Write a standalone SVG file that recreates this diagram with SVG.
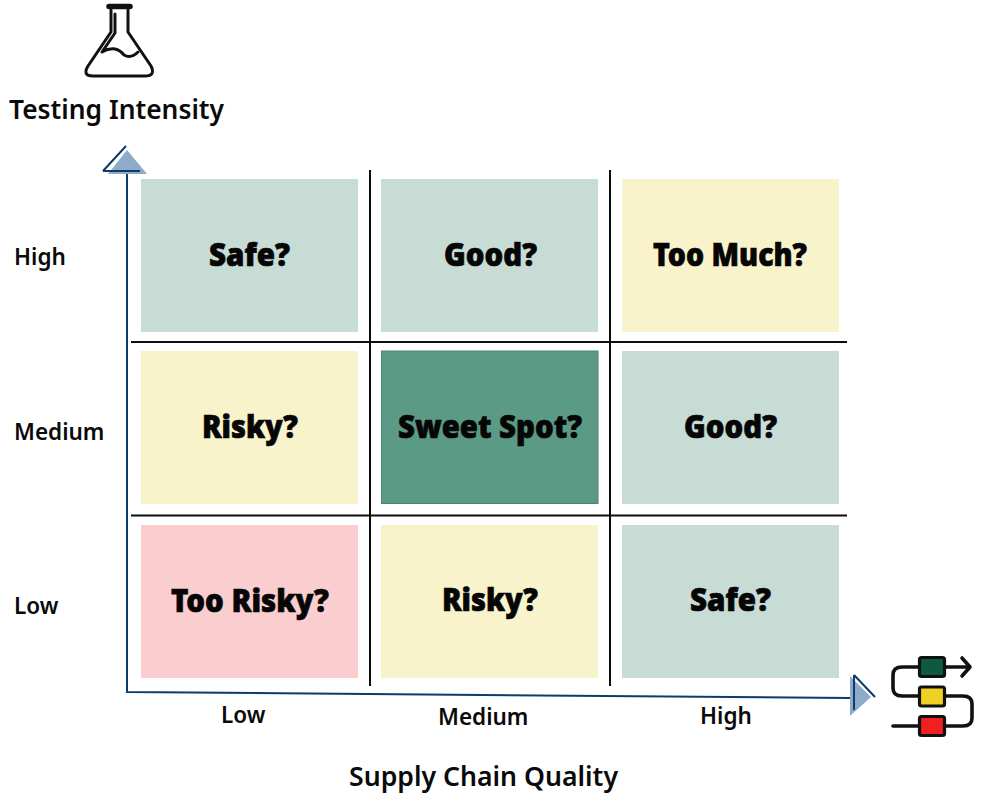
<svg xmlns="http://www.w3.org/2000/svg" width="983" height="800" viewBox="0 0 983 800">
<style>
.cell{stroke-width:1}
.t{font-family:"Noto Sans","Open Sans",sans-serif;font-weight:900;font-size:31px;fill:#060606;stroke:#060606;stroke-width:.7;text-anchor:middle}
.l{font-family:"Noto Sans","Open Sans",sans-serif;font-weight:600;font-size:22.500px;fill:#0a0a0a}
.h{font-family:"Noto Sans","Open Sans",sans-serif;font-weight:600;font-size:27px;fill:#0a0a0a}
.g{stroke:#0c0c0c;stroke-width:2;fill:none}
.ax{stroke:#0f3a6e;stroke-width:2;fill:none}
.ic{stroke:#111;stroke-width:3;fill:none;stroke-linecap:round;stroke-linejoin:round}
.rim{stroke-width:5.500}
.fl{stroke-width:3.600}
.ic2{stroke:#111;stroke-width:3.200;stroke-linejoin:round}
</style>
<rect width="983" height="800" fill="#fff"/>
<g id="connectors">
<path class="g" d="M370 170V686M610 170V686M131 342H847M131 515.500H847"/>
<path class="ax" d="M127 172V692L850 698"/>
<path d="M108 174H147L127 150Z" fill="#8eabc9"/>
<path class="ax" d="M103 171H140M103 171L126 146"/>
<path d="M850 676V716L871 697Z" fill="#8eabc9"/>
<path class="ax" d="M854 675V710M854 675L875 697"/>
</g>
<g id="cell-high-low"><rect class="cell" x="141" y="179" width="217" height="153" fill="#c8dcd6"/><text class="t" x="249.500" y="266" textLength="81" lengthAdjust="spacingAndGlyphs">Safe?</text></g>
<g id="cell-high-medium"><rect class="cell" x="381" y="179" width="217" height="153" fill="#c8dcd6"/><text class="t" x="490.500" y="266" textLength="93" lengthAdjust="spacingAndGlyphs">Good?</text></g>
<g id="cell-high-high"><rect class="cell" x="622" y="179" width="217" height="153" fill="#f9f3cb"/><text class="t" x="730" y="266" textLength="154" lengthAdjust="spacingAndGlyphs">Too Much?</text></g>
<g id="cell-medium-low"><rect class="cell" x="141" y="351" width="217" height="153" fill="#f9f3cb"/><text class="t" x="250" y="437.500" textLength="96" lengthAdjust="spacingAndGlyphs">Risky?</text></g>
<g id="cell-medium-medium"><rect class="cell" x="381.500" y="351" width="216.500" height="152.500" fill="#5b9a84" stroke="#4a8571"/><text class="t" x="490" y="438" textLength="184" lengthAdjust="spacingAndGlyphs">Sweet Spot?</text></g>
<g id="cell-medium-high"><rect class="cell" x="622" y="351" width="217" height="153" fill="#c8dcd6"/><text class="t" x="730.500" y="438" textLength="93" lengthAdjust="spacingAndGlyphs">Good?</text></g>
<g id="cell-low-low"><rect class="cell" x="141" y="525" width="217" height="153" fill="#facdcf"/><text class="t" x="250" y="611.500" textLength="158" lengthAdjust="spacingAndGlyphs">Too Risky?</text></g>
<g id="cell-low-medium"><rect class="cell" x="381" y="525" width="217" height="153" fill="#f9f3cb"/><text class="t" x="490" y="611" textLength="96" lengthAdjust="spacingAndGlyphs">Risky?</text></g>
<g id="cell-low-high"><rect class="cell" x="622" y="525" width="217" height="153" fill="#c8dcd6"/><text class="t" x="730.500" y="611" textLength="81" lengthAdjust="spacingAndGlyphs">Safe?</text></g>
<g id="axis-labels">
<text class="h" x="9" y="119" textLength="215" lengthAdjust="spacingAndGlyphs">Testing Intensity</text>
<text class="h" x="349" y="786" textLength="269" lengthAdjust="spacingAndGlyphs">Supply Chain Quality</text>
<text class="l" x="14" y="265">High</text>
<text class="l" x="14" y="440">Medium</text>
<text class="l" x="14" y="614">Low</text>
<text class="l" x="221" y="723">Low</text>
<text class="l" x="438" y="725">Medium</text>
<text class="l" x="700" y="724">High</text>
</g>
<g id="flask-icon">
<path class="ic rim" d="M109 6.500H130"/>
<path class="ic" d="M111 10V32L88 66Q82 76 93 76H145Q156 76 151 66L128 32V10"/>
<path class="ic" d="M115 14V33L102 52Q109 48 115 49Q120 50 124 55Q131 59 138 52"/>
</g>
<g id="flow-icon">
<path class="ic fl" d="M919 667H902Q893 667 893 675V688Q893 696 902 696H919M945 696H963Q972 696 972 704V718Q972 726 963 726H945M919 726H893M945 667H970M962 658L970 667L962 676"/>
<rect class="ic2" x="919.500" y="657.500" width="25" height="19" rx="2" fill="#0d5a3e"/>
<rect class="ic2" x="919.500" y="687" width="25" height="19" rx="2" fill="#f0d023"/>
<rect class="ic2" x="919.500" y="716.500" width="25" height="19" rx="2" fill="#f01f20"/>
</g>
</svg>
